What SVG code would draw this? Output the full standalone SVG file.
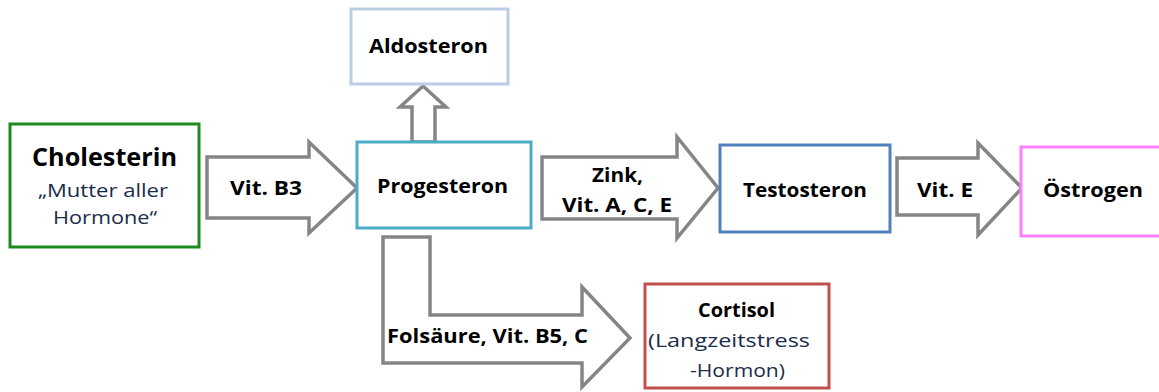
<svg xmlns="http://www.w3.org/2000/svg" width="1159" height="392" viewBox="0 0 1159 392">
<style>
.box{fill:#fff;stroke-width:3}
.arr{fill:#fff;stroke:#858585;stroke-width:3.5;stroke-linejoin:miter}
.b{font-family:"Open Sans",Lato,"Liberation Sans",sans-serif;font-weight:bold;font-size:20px;fill:#000;text-anchor:middle}
.r{font-family:"Open Sans",Lato,"Liberation Sans",sans-serif;font-size:19px;fill:#1a2c4a;text-anchor:middle}
</style>
<rect width="1159" height="392" fill="#fff"/>
<g id="connectors">
<polygon class="arr" points="207,157 309,157 309,142 357,188 309,233 309,218 207,218"/>
<polygon class="arr" points="412,142 412,107 400,107 423,86 446,107 435,107 435,142"/>
<polygon class="arr" points="542,157 677,157 677,137 718,188 677,238 677,219 542,219"/>
<polygon class="arr" points="897,158 978,158 978,143 1022,188 978,235 978,215 897,215"/>
<polygon class="arr" points="383,237 430,237 430,315 582,315 582,287 630,338 582,387 582,363 383,363"/>
</g>
<g id="cholesterin">
<rect class="box" x="10" y="124" width="189" height="123" stroke="#1e8a1e"/>
<text class="b" x="104.5" y="166" style="font-size:25px" textLength="145" lengthAdjust="spacingAndGlyphs">Cholesterin</text>
<text class="r" x="103" y="197" textLength="130" lengthAdjust="spacingAndGlyphs">„Mutter aller</text>
<text class="r" x="105" y="224" textLength="104" lengthAdjust="spacingAndGlyphs">Hormone“</text>
</g>
<text class="b" x="266" y="195" textLength="72" lengthAdjust="spacingAndGlyphs">Vit. B3</text>
<g id="progesteron">
<rect class="box" x="357" y="142" width="174" height="86" stroke="#4bacc6"/>
<text class="b" x="442.5" y="193" textLength="131" lengthAdjust="spacingAndGlyphs">Progesteron</text>
</g>
<g id="aldosteron">
<rect class="box" x="351" y="9" width="157" height="75" stroke="#b9cde5"/>
<text class="b" x="428.5" y="53" textLength="119" lengthAdjust="spacingAndGlyphs">Aldosteron</text>
</g>
<text class="b" x="617.5" y="182" textLength="51" lengthAdjust="spacingAndGlyphs">Zink,</text>
<text class="b" x="617" y="212" textLength="110" lengthAdjust="spacingAndGlyphs">Vit. A, C, E</text>
<g id="testosteron">
<rect class="box" x="720" y="145" width="170" height="87" stroke="#4f81bd"/>
<text class="b" x="805" y="197" textLength="124" lengthAdjust="spacingAndGlyphs">Testosteron</text>
</g>
<text class="b" x="945" y="197" textLength="56" lengthAdjust="spacingAndGlyphs">Vit. E</text>
<g id="oestrogen">
<rect class="box" x="1021" y="147" width="140" height="89" stroke="#ff80ff"/>
<text class="b" x="1093" y="197" textLength="100" lengthAdjust="spacingAndGlyphs">Östrogen</text>
</g>
<text class="b" x="487.5" y="343" textLength="201" lengthAdjust="spacingAndGlyphs">Folsäure, Vit. B5, C</text>
<g id="cortisol">
<rect class="box" x="645" y="284" width="184" height="104" stroke="#c0504d"/>
<text class="b" x="736.5" y="317" textLength="77" lengthAdjust="spacingAndGlyphs">Cortisol</text>
<text class="r" x="729" y="347" textLength="162" lengthAdjust="spacingAndGlyphs">(Langzeitstress</text>
<text class="r" x="737.5" y="377" textLength="95" lengthAdjust="spacingAndGlyphs">-Hormon)</text>
</g>
</svg>
